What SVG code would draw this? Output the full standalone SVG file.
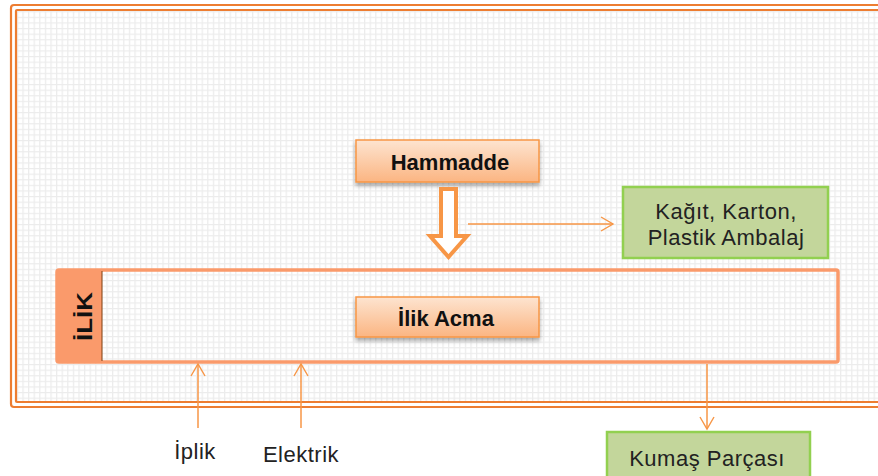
<svg xmlns="http://www.w3.org/2000/svg" width="878" height="476" viewBox="0 0 878 476">
  <defs>
    <pattern id="grid" width="5.6" height="5.6" patternUnits="userSpaceOnUse">
      <rect width="5.6" height="5.6" fill="#ffffff"/>
      <path d="M0 0.6H5.6M0.6 0V5.6" stroke="#ececec" stroke-width="1.3" fill="none"/>
    </pattern>
    <linearGradient id="peach" x1="0" y1="0" x2="0" y2="1">
      <stop offset="0" stop-color="#fde4d0"/>
      <stop offset="1" stop-color="#fbb582"/>
    </linearGradient>
    <filter id="shadow" x="-10%" y="-20%" width="120%" height="160%">
      <feDropShadow dx="0" dy="3" stdDeviation="2" flood-color="#000" flood-opacity="0.35"/>
    </filter>
    <marker id="open" markerWidth="16" markerHeight="16" refX="14" refY="8" orient="auto" markerUnits="userSpaceOnUse">
      <path d="M2 1L14 8L2 15" fill="none" stroke="#f79646" stroke-width="1.4"/>
    </marker>
  </defs>
  <style>
    .frame { fill: none; stroke: #ed7d31; stroke-width: 2.2; }
    .proc { fill: url(#peach); stroke: #f79646; stroke-width: 1.5; }
    .proc-text { font-family: "Liberation Sans", Arial, sans-serif; font-size: 22px; font-weight: bold; fill: #111; }
    .out { fill: #c3d69b; stroke: #92d050; stroke-width: 2.5; }
    .out-text { font-family: "Liberation Sans", Arial, sans-serif; font-size: 22px; letter-spacing: 0.5px; fill: #222; }
    .label { font-family: "Liberation Sans", Arial, sans-serif; font-size: 22px; letter-spacing: 0.5px; fill: #222; }
    .flow { stroke: #f79646; stroke-width: 1.5; fill: none; }
  </style>

  <rect width="878" height="476" fill="#ffffff"/>

  <!-- outer double frame with grid backdrop -->
  <g id="frame">
    <rect x="16" y="10" width="880" height="392" fill="url(#grid)"/>
    <rect class="frame" x="11" y="5" width="890" height="402" rx="3"/>
    <rect class="frame" x="16" y="10" width="880" height="392" rx="1"/>
  </g>

  <!-- İLİK swimlane -->
  <g id="ilik-lane">
    <rect x="57" y="270" width="781" height="92" fill="none" stroke="#fa9a6b" stroke-width="3.5" rx="2"/>
    <rect x="57" y="270" width="45" height="92" fill="#fa9a6b" rx="2"/>
    <line x1="102" y1="271" x2="102" y2="361" stroke="#7f3f10" stroke-width="1"/>
    <text class="proc-text" font-size="32" textLength="49" lengthAdjust="spacingAndGlyphs" transform="translate(92 341) rotate(-90)">İLİK</text>
  </g>

  <g id="hammadde">
    <rect class="proc" x="356" y="140" width="183" height="42" filter="url(#shadow)"/>
    <text class="proc-text" x="450" y="170" text-anchor="middle">Hammadde</text>
  </g>

  <g id="ilik-acma">
    <rect class="proc" x="356" y="297" width="183" height="40" filter="url(#shadow)"/>
    <text class="proc-text" x="446" y="326" text-anchor="middle">İlik Acma</text>
  </g>

  <g id="ambalaj">
    <rect class="out" x="623" y="187" width="205" height="71"/>
    <text class="out-text" x="726" y="219" text-anchor="middle">Kağıt, Karton,</text>
    <text class="out-text" x="726" y="245" text-anchor="middle">Plastik Ambalaj</text>
  </g>

  <g id="kumas">
    <rect class="out" x="607" y="432" width="203" height="50"/>
    <text class="out-text" x="707" y="466" text-anchor="middle">Kumaş Parçası</text>
  </g>

  <g id="iplik">
    <text class="label" x="195" y="459" text-anchor="middle">İplik</text>
  </g>

  <g id="elektrik">
    <text class="label" x="301" y="462" text-anchor="middle">Elektrik</text>
  </g>

  <!-- connectors -->
  <g id="connectors">
    <path d="M441 189H456V236H467L448.5 257L430 236H441Z" fill="#ffffff" stroke="#f79646" stroke-width="4" stroke-linejoin="miter"/>
    <line class="flow" x1="468" y1="224" x2="613" y2="224" marker-end="url(#open)"/>
    <line class="flow" x1="198" y1="428" x2="198" y2="364" marker-end="url(#open)"/>
    <line class="flow" x1="301" y1="428" x2="301" y2="364" marker-end="url(#open)"/>
    <line class="flow" x1="707" y1="364" x2="707" y2="429" marker-end="url(#open)"/>
  </g>
</svg>
